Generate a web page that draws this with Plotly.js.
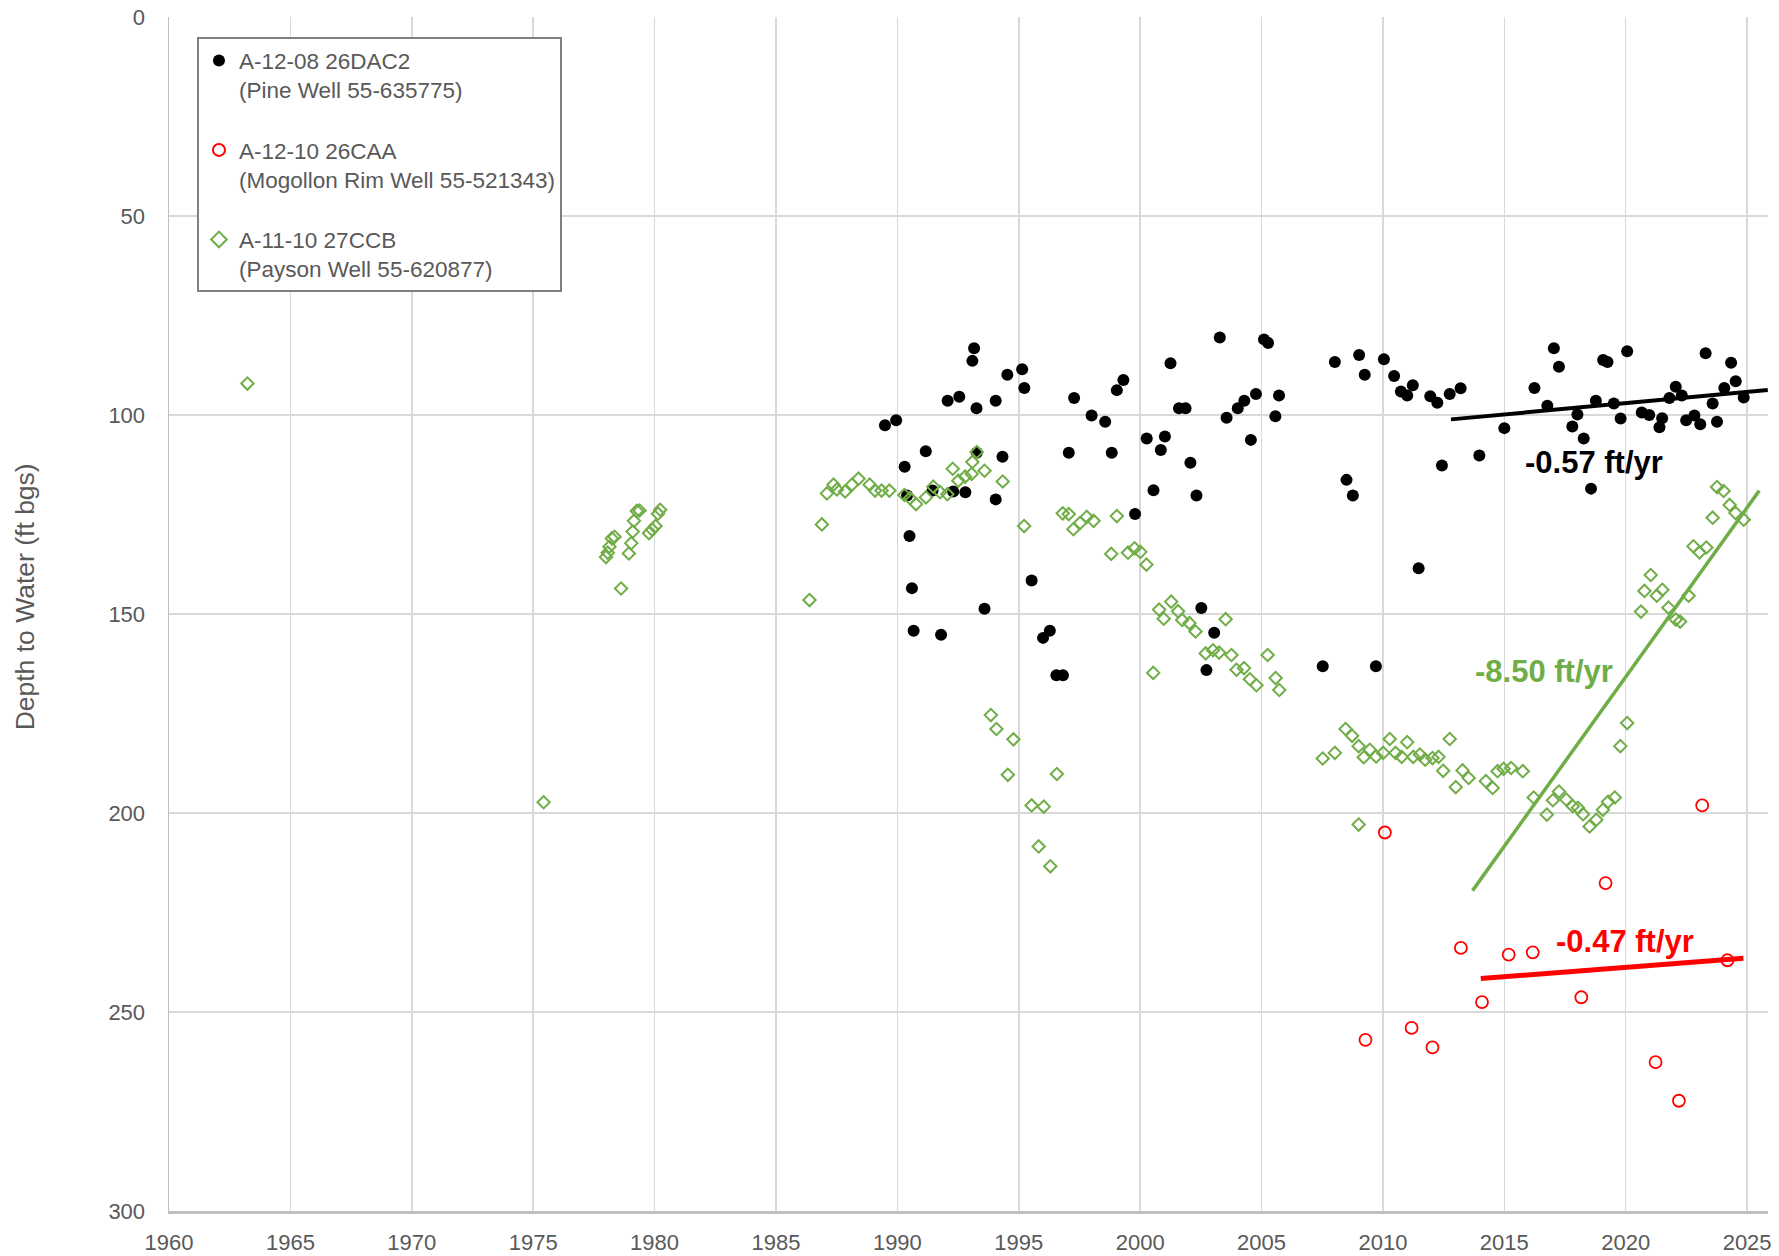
<!DOCTYPE html>
<html>
<head>
<meta charset="utf-8">
<script src="https://cdn.plot.ly/plotly-3.0.1.min.js"></script>
<style>html,body{margin:0;padding:0;background:#fff;}#chart{width:1779px;height:1256px;}</style>
</head>
<body>
<div id="chart"></div>
<script>
// A-12-08 26DAC2 (Pine Well 55-635775)
const pineYears = [1989.49,1989.95,1990.3,1990.4,1990.5,1990.6,1990.67,1991.17,1991.45,1991.8,1992.07,1992.3,1992.55,1992.8,1993.09,1993.16,1993.26,1993.27,1993.59,1994.05,1994.05,1994.33,1994.53,1995.14,1995.23,1995.53,1996.0,1996.28,1996.55,1996.82,1997.06,1997.28,1998.0,1998.56,1998.83,1999.04,1999.31,1999.79,2000.27,2000.55,2000.85,2001.02,2001.25,2001.6,2001.87,2002.07,2002.32,2002.52,2002.73,2003.05,2003.28,2003.56,2004.02,2004.29,2004.56,2004.77,2005.1,2005.27,2005.57,2005.72,2007.52,2008.02,2008.5,2008.76,2009.02,2009.25,2009.71,2010.04,2010.46,2010.74,2011.0,2011.23,2011.47,2011.95,2012.24,2012.43,2012.75,2013.2,2013.97,2015.0,2016.24,2016.77,2017.04,2017.25,2017.8,2018.01,2018.27,2018.57,2018.77,2019.07,2019.25,2019.51,2019.79,2020.06,2020.66,2020.97,2021.39,2021.5,2021.8,2022.06,2022.31,2022.49,2022.83,2023.07,2023.29,2023.58,2023.76,2024.06,2024.34,2024.53,2024.86];
const pineDepth = [102.6,101.3,113,120.2,130.4,143.5,154.2,109.1,119,155.2,96.4,119.2,95.4,119.4,86.4,83.2,98.3,109.5,148.7,96.4,121.2,110.5,89.9,88.5,93.2,141.6,156.0,154.2,165.4,165.4,109.5,95.7,100.1,101.7,109.5,93.75,91.2,124.9,105.9,118.9,108.8,105.4,87.0,98.3,98.3,112,120.2,148.5,164.1,154.7,80.5,100.7,98.3,96.4,106.25,94.7,81.0,81.9,100.3,95.1,163.1,86.7,116.3,120.2,84.9,89.9,163.1,86.0,90.2,94.1,95.1,92.5,138.5,95.3,96.9,112.7,94.7,93.3,110.2,103.3,93.2,97.7,83.2,87.9,102.9,99.9,105.9,118.5,96.4,86.2,86.7,97.1,100.9,84.0,99.4,100.0,103.1,100.8,95.7,92.9,95.1,101.3,100.1,102.3,84.5,97.1,101.7,93.2,86.9,91.5,95.6];

// A-12-10 26CAA (Mogollon Rim Well 55-521343)
const rimYears = [2009.28,2010.08,2011.18,2012.04,2013.21,2014.08,2015.18,2016.17,2018.17,2019.17,2021.23,2022.19,2023.15,2024.19];
const rimDepth = [257.0,204.9,254.0,258.9,233.9,247.5,235.6,235.0,246.3,217.6,262.6,272.3,198.1,237.0];

// A-11-10 27CCB (Payson Well 55-620877)
const paysonYears = [1963.23,1975.43,1978.0,1978.07,1978.14,1978.24,1978.35,1978.62,1978.94,1979.04,1979.1,1979.15,1979.27,1979.38,1979.77,1979.9,1980.04,1980.14,1980.23,1986.38,1986.89,1987.1,1987.37,1987.51,1987.85,1988.13,1988.4,1988.86,1989.08,1989.35,1989.67,1990.29,1990.52,1990.77,1991.18,1991.48,1991.76,1992.06,1992.28,1992.51,1992.79,1993.06,1993.09,1993.27,1993.59,1993.85,1994.08,1994.34,1994.55,1994.78,1995.22,1995.53,1995.82,1996.03,1996.3,1996.57,1996.81,1997.06,1997.25,1997.53,1997.8,1998.08,1998.81,1999.04,1999.5,1999.77,2000.01,2000.26,2000.54,2000.78,2000.97,2001.28,2001.56,2001.73,2002.03,2002.28,2002.7,2003.0,2003.25,2003.52,2003.76,2003.97,2004.28,2004.52,2004.79,2005.25,2005.58,2005.73,2007.52,2008.02,2008.46,2008.73,2009.0,2009.0,2009.21,2009.46,2009.72,2010.01,2010.28,2010.52,2010.77,2011.0,2011.25,2011.52,2011.74,2012.04,2012.29,2012.48,2012.75,2013.0,2013.28,2013.53,2014.24,2014.52,2014.72,2014.97,2015.28,2015.76,2016.21,2016.75,2017.0,2017.25,2017.55,2017.82,2018.03,2018.24,2018.51,2018.79,2019.06,2019.27,2019.55,2019.78,2020.06,2020.63,2020.77,2021.03,2021.28,2021.51,2021.76,2022.06,2022.24,2022.59,2022.79,2023.04,2023.32,2023.58,2023.76,2024.03,2024.28,2024.52,2024.86];
const paysonDepth = [92.1,197.3,135.7,134.6,133.1,131.0,130.6,143.6,134.8,132.2,129.3,126.6,124.1,124.0,129.7,128.8,127.9,124.8,123.8,146.5,127.5,119.7,117.5,118.7,119.2,117.5,116.0,117.5,119,119,119,120.1,120.9,122.4,120.7,118,119.4,119.9,113.5,116.5,115.5,114.8,111.8,109.3,114,175.4,178.9,116.7,190.4,181.5,127.9,198.1,208.4,198.4,213.4,190.2,124.7,124.9,128.7,127.1,125.6,126.6,134.9,125.4,134.6,133.5,134.4,137.6,164.8,148.9,151.2,146.9,149.3,151.5,152.3,154.4,159.9,159.1,159.7,151.3,160.3,164,163.6,166.4,167.9,160.3,166.1,169.1,186.3,184.9,178.9,180.6,183.2,202.9,186,184.1,185.8,184.9,181.4,184.9,185.9,182.2,185.9,185.3,186.6,186.2,185.9,189.4,181.4,193.5,189.3,191.2,192,193.7,189.5,188.9,188.7,189.5,196.1,200.4,196.8,194.6,196.6,198.3,198.7,200.3,203.4,201.7,199.2,197.2,196.1,183.2,177.4,149.4,144.2,140.2,145.4,143.9,148.4,151.4,151.9,145.4,133,134.5,133.3,125.8,118.1,119.1,122.6,124.6,126.3];

// Trend line end points and labels
const pineTrendX = [2012.8, 2025.85];
const pineTrendY = [101.1, 93.7];
const rimTrendX = [2014.03, 2024.85];
const rimTrendY = [241.6, 236.5];
const paysonTrendX = [2013.69, 2025.5];
const paysonTrendY = [219.5, 119.0];
const trendLabels = ['-0.57 ft/yr', '-0.47 ft/yr', '-8.50 ft/yr'];
const trendLabelX = [2018.68, 2019.96, 2016.63];
const trendLabelY = [112.0, 232.2, 164.5];

const seriesNames = ['A-12-08 26DAC2<br>(Pine Well 55-635775)', 'A-12-10 26CAA<br>(Mogollon Rim Well 55-521343)', 'A-11-10 27CCB<br>(Payson Well 55-620877)'];
const xTicks = [1960,1965,1970,1975,1980,1985,1990,1995,2000,2005,2010,2015,2020,2025];
const yTicks = [0,50,100,150,200,250,300];
const yTitle = 'Depth to Water (ft bgs)';

const GREEN = '#70AD47';
const FONT = '"Liberation Sans", Arial, sans-serif';

const traces = [
  {x: pineYears, y: pineDepth, type: 'scatter', mode: 'markers', name: seriesNames[0], legendgroup: 'a',
   marker: {symbol: 'circle', size: 12, color: '#000000'}},
  {x: rimYears, y: rimDepth, type: 'scatter', mode: 'markers', name: seriesNames[1], legendgroup: 'b',
   marker: {symbol: 'circle-open', size: 12, color: '#FF0000', line: {width: 1.8, color: '#FF0000'}}},
  {x: paysonYears, y: paysonDepth, type: 'scatter', mode: 'markers', name: seriesNames[2], legendgroup: 'c',
   marker: {symbol: 'diamond-open', size: 9.5, color: GREEN, line: {width: 2, color: GREEN}}},
  {x: pineTrendX, y: pineTrendY, type: 'scatter', mode: 'lines', showlegend: false, hoverinfo: 'skip',
   line: {color: '#000000', width: 4}},
  {x: rimTrendX, y: rimTrendY, type: 'scatter', mode: 'lines', showlegend: false, hoverinfo: 'skip',
   line: {color: '#FF0000', width: 5}},
  {x: paysonTrendX, y: paysonTrendY, type: 'scatter', mode: 'lines', showlegend: false, hoverinfo: 'skip',
   line: {color: GREEN, width: 3.5}}
];

const labelColors = ['#000000', '#FF0000', GREEN];
const annotations = trendLabels.map((t, i) => ({
  x: trendLabelX[i], y: trendLabelY[i], xref: 'x', yref: 'y', text: '<b>' + t + '</b>', showarrow: false,
  font: {family: FONT, size: 31, color: labelColors[i]}, xanchor: 'center', yanchor: 'middle'
}));
annotations.push({
  x: -0.09, y: 0.514, xref: 'paper', yref: 'paper', text: yTitle, textangle: -90, showarrow: false,
  font: {family: FONT, size: 26.5, color: '#595959'}, xanchor: 'center', yanchor: 'middle'
});

const layout = {
  width: 1779, height: 1256,
  margin: {l: 169, r: 11, t: 17, b: 45, pad: 0},
  paper_bgcolor: '#ffffff', plot_bgcolor: '#ffffff',
  font: {family: FONT, color: '#595959', size: 22},
  showlegend: true,
  legend: {
    x: 0.0175, y: 0.983, xanchor: 'left', yanchor: 'top',
    bgcolor: '#ffffff', bordercolor: '#7f7f7f', borderwidth: 2,
    font: {family: FONT, size: 22.5, color: '#595959'},
    traceorder: 'grouped', tracegroupgap: 28, valign: 'top', itemsizing: 'constant'
  },
  xaxis: {
    range: [1960, 2025.86], tickmode: 'array', tickvals: xTicks, ticktext: xTicks.map(String),
    showgrid: true, gridcolor: '#d9d9d9', gridwidth: 1.5, zeroline: false,
    showline: true, linecolor: '#bfbfbf', linewidth: 3,
    ticks: 'outside', ticklen: 10, tickcolor: 'rgba(0,0,0,0)',
    tickfont: {family: FONT, size: 22, color: '#595959'}
  },
  yaxis: {
    range: [300, 0], tickmode: 'array', tickvals: yTicks, ticktext: yTicks.map(String),
    showgrid: true, gridcolor: '#d9d9d9', gridwidth: 1.5, zeroline: false,
    showline: true, linecolor: '#bfbfbf', linewidth: 1.5,
    ticks: 'outside', ticklen: 18, tickcolor: 'rgba(0,0,0,0)',
    tickfont: {family: FONT, size: 22, color: '#595959'}
  },
  annotations: annotations
};

Plotly.newPlot('chart', traces, layout, {displayModeBar: false, staticPlot: true});
</script>
</body>
</html>
